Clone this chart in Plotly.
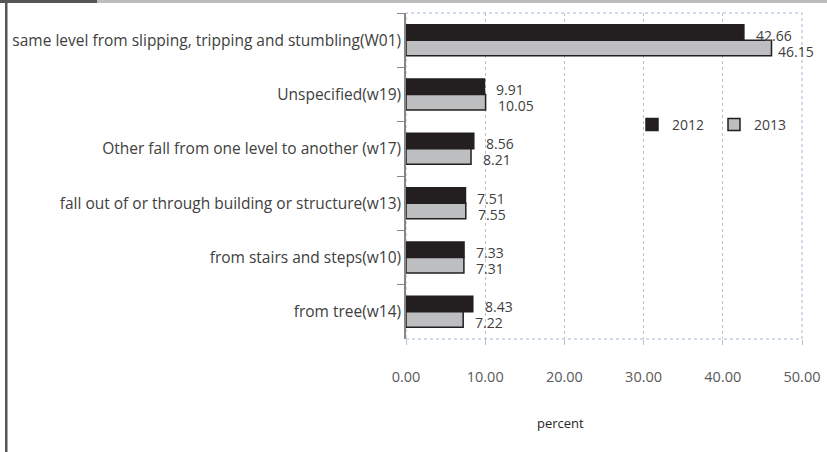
import plotly.graph_objects as go

categories = [
    "same level from slipping, tripping and stumbling(W01)",
    "Unspecified(w19)",
    "Other fall from one level to another (w17)",
    "fall out of or through building or structure(w13)",
    "from stairs and steps(w10)",
    "from tree(w14)",
]
values_2012 = [42.66, 9.91, 8.56, 7.51, 7.33, 8.43]
values_2013 = [46.15, 10.05, 8.21, 7.55, 7.31, 7.22]
x_ticks = [0, 10, 20, 30, 40, 50]
x_tick_labels = ["0.00", "10.00", "20.00", "30.00", "40.00", "50.00"]

FONT = "Open Sans"
W, H = 827, 452
L, R, T, B = 406, 25, 13, 113
pw, ph = W - L - R, H - T - B

fig = go.Figure()
fig.add_trace(go.Bar(
    name="2012", y=categories, x=values_2012, orientation="h",
    marker=dict(color="#231f20", line=dict(color="#231f20", width=1.5)),
))
fig.add_trace(go.Bar(
    name="2013", y=categories, x=values_2013, orientation="h",
    marker=dict(color="#bcbec0", line=dict(color="#231f20", width=1.5)),
))

ann = []
for c, v in zip(categories, values_2012):
    ann.append(dict(x=v, y=c, xref="x", yref="y", text=f"{v:.2f}", showarrow=False,
                    xanchor="left", yanchor="middle", xshift=10, yshift=5,
                    font=dict(family=FONT, size=14, color="#404040")))
for c, v in zip(categories, values_2013):
    ann.append(dict(x=v, y=c, xref="x", yref="y", text=f"{v:.2f}", showarrow=False,
                    xanchor="left", yanchor="middle", xshift=10 if v < 40 else 4, yshift=-11,
                    font=dict(family=FONT, size=14, color="#404040")))
ann.append(dict(x=(560 - L) / pw, y=(T + ph - 423) / ph, xref="paper", yref="paper",
                text="percent", showarrow=False, xanchor="center", yanchor="middle",
                font=dict(family=FONT, size=13, color="#262626")))

shapes = [
    dict(type="rect", xref="paper", yref="paper", x0=0, x1=1, y0=0, y1=1,
         line=dict(color="#9db8d6", width=1, dash="dot"), layer="below"),
    dict(type="rect", xref="paper", yref="paper",
         x0=-L / pw, x1=(W - L) / pw, y0=1 + (T - 3) / ph, y1=1 + T / ph,
         fillcolor="#bdbdbd", line=dict(width=0)),
    dict(type="rect", xref="paper", yref="paper",
         x0=-L / pw, x1=(97 - L) / pw, y0=1 + (T - 3) / ph, y1=1 + T / ph,
         fillcolor="#555555", line=dict(width=0)),
    dict(type="rect", xref="paper", yref="paper",
         x0=(5 - L) / pw, x1=(7.5 - L) / pw, y0=-B / ph, y1=1 + T / ph,
         fillcolor="#555555", line=dict(width=0)),
]

fig.update_layout(
    width=W, height=H,
    margin=dict(l=L, r=R, t=T, b=B, autoexpand=False),
    paper_bgcolor="white", plot_bgcolor="white",
    barmode="group", bargap=0.43, bargroupgap=0,
    font=dict(family=FONT, size=14, color="#404040"),
    showlegend=True,
    legend=dict(orientation="h", x=(632 - L) / pw, y=(T + ph - 125) / ph,
                xanchor="left", yanchor="middle", entrywidth=37, entrywidthmode="pixels",
                itemwidth=30, bgcolor="rgba(0,0,0,0)", borderwidth=0,
                font=dict(family=FONT, size=14, color="#404040")),
    annotations=ann,
    shapes=shapes,
    xaxis=dict(range=[0, 50], tickvals=x_ticks, ticktext=x_tick_labels,
               showgrid=True, gridcolor="#bfbfbf", griddash="dot", gridwidth=1,
               zeroline=False, showline=False, ticks="outside", ticklen=5,
               tickcolor="#bfbfbf", ticklabelstandoff=20, automargin=False,
               tickfont=dict(family=FONT, size=14.5, color="#595959")),
    yaxis=dict(autorange="reversed", showgrid=False, zeroline=False,
               showline=True, linecolor="#868686", linewidth=1.5,
               ticks="outside", tickson="boundaries", ticklen=7, tickcolor="#868686",
               automargin=False,
               tickfont=dict(family=FONT, size=15.5, color="#404040")),
)

fig.write_html(
    "out.html",
    config={"displayModeBar": False},
    post_script="document.body.style.margin='0';document.body.style.padding='0';"
                "document.body.style.overflow='hidden';",
)
